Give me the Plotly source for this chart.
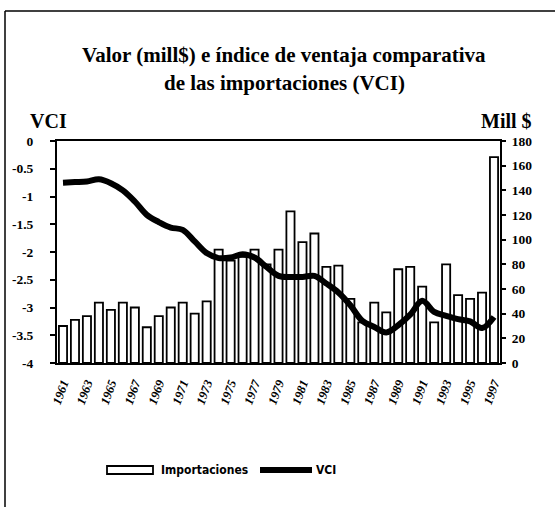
import plotly.graph_objects as go

# ---- data ----
years = list(range(1961, 1998))
importaciones = [30, 35, 38, 49, 43, 49, 45, 29, 38, 45, 49, 40, 50,
                 92, 83, 86, 92, 80, 92, 123, 98, 105, 78, 79, 52,
                 33, 49, 41, 76, 78, 62, 33, 80, 55, 52, 57, 167]
vci = [-0.75, -0.74, -0.73, -0.69, -0.76, -0.89, -1.09, -1.33, -1.46, -1.56, -1.60, -1.81, -2.02,
       -2.11, -2.10, -2.04, -2.10, -2.27, -2.43, -2.45, -2.45, -2.43, -2.57, -2.73, -2.96,
       -3.24, -3.35, -3.45, -3.32, -3.13, -2.88, -3.08, -3.15, -3.21, -3.25, -3.37, -3.17]
year_ticks = list(range(1961, 1998, 2))
vci_ticks = [0, -0.5, -1, -1.5, -2, -2.5, -3, -3.5, -4]
mill_ticks = [0, 20, 40, 60, 80, 100, 120, 140, 160, 180]

title_lines = ["Valor (mill$) e índice de ventaja comparativa", "de las importaciones (VCI)"]

# ---- layout geometry (pixels) ----
W, H = 555, 507
L, R, T, B = 57, 55, 141, 144
PW, PH = W - L - R, H - T - B

def px(x):
    return (x - L) / PW

def py(y):
    return (H - B - y) / PH

SERIF = "Liberation Serif"
SANS = "Liberation Sans Narrow, DejaVu Sans Condensed, Liberation Sans"

fig = go.Figure()
fig.add_trace(go.Bar(
    x=years, y=importaciones, name="Importaciones", yaxis="y",
    marker=dict(color="white", line=dict(color="black", width=1.8)),
    showlegend=False,
))
fig.add_trace(go.Scatter(
    x=years, y=vci, name="VCI", yaxis="y2", mode="lines",
    line=dict(color="black", width=6, shape="spline", smoothing=1.0),
    showlegend=False,
))

fig.update_layout(
    width=W, height=H,
    margin=dict(l=L, r=R, t=T, b=B, pad=0),
    paper_bgcolor="white", plot_bgcolor="white",
    bargap=0.32,
    xaxis=dict(
        range=[1960.5, 1997.5], tickmode="array", tickvals=year_ticks,
        ticktext=[str(y) for y in year_ticks], tickangle=-70,
        tickfont=dict(family=SERIF, size=12.5, color="black", weight="bold", style="italic"),
        showline=True, linecolor="black", linewidth=2, mirror=True,
        showgrid=False, zeroline=False, ticks="", ticklabelstandoff=6,
    ),
    yaxis=dict(
        side="right", range=[0, 180], tickvals=mill_ticks,
        tickfont=dict(family=SERIF, size=13.5, color="black", weight="bold"),
        showline=True, linecolor="black", linewidth=2,
        ticks="outside", ticklen=4, tickwidth=1.5, tickcolor="black",
        showgrid=False, zeroline=False, ticklabelstandoff=3,
    ),
    yaxis2=dict(
        side="left", overlaying="y", range=[-4, 0], tickvals=vci_ticks,
        ticktext=["0", "-0.5", "-1", "-1.5", "-2", "-2.5", "-3", "-3.5", "-4"],
        tickfont=dict(family=SERIF, size=13.5, color="black", weight="bold"),
        showline=True, linecolor="black", linewidth=2,
        ticks="outside", ticklen=5, tickwidth=1.5, tickcolor="black",
        showgrid=False, zeroline=False, ticklabelstandoff=14,
    ),
)

anns = []
for text, yy in zip(title_lines, [55, 83]):
    anns.append(dict(text="<b>" + text + "</b>", x=px(284), y=py(yy), xref="paper", yref="paper",
                     xanchor="center", yanchor="middle", showarrow=False,
                     font=dict(family=SERIF, size=21, color="black")))
anns.append(dict(text="<b>VCI</b>", x=px(28), y=py(121), xref="paper", yref="paper",
                 xanchor="left", yanchor="middle", showarrow=False,
                 font=dict(family=SERIF, size=20, color="black")))
anns.append(dict(text="<b>Mill $</b>", x=px(534), y=py(121), xref="paper", yref="paper",
                 xanchor="right", yanchor="middle", showarrow=False,
                 font=dict(family=SERIF, size=20, color="black")))
# legend labels
anns.append(dict(text="Importaciones", x=px(159), y=py(470), xref="paper", yref="paper",
                 xanchor="left", yanchor="middle", showarrow=False,
                 font=dict(family=SANS, size=12, color="black", weight="bold")))
anns.append(dict(text="VCI", x=px(314), y=py(470), xref="paper", yref="paper",
                 xanchor="left", yanchor="middle", showarrow=False,
                 font=dict(family=SANS, size=12, color="black", weight="bold")))
fig.update_layout(annotations=anns)

shapes = [
    # outer frame (left and top edges visible)
    dict(type="line", xref="paper", yref="paper", x0=px(5), x1=px(5), y0=py(11), y1=py(507),
         line=dict(color="black", width=1.5)),
    dict(type="line", xref="paper", yref="paper", x0=px(5), x1=px(555), y0=py(11), y1=py(11),
         line=dict(color="black", width=1.5)),
    # legend symbols
    dict(type="rect", xref="paper", yref="paper", x0=px(107), x1=px(153), y0=py(466), y1=py(474),
         line=dict(color="black", width=1.8), fillcolor="white"),
    dict(type="line", xref="paper", yref="paper", x0=px(260), x1=px(312), y0=py(470), y1=py(470),
         line=dict(color="black", width=6)),
]
fig.update_layout(shapes=shapes)

fig.write_html("out.html", config={"displayModeBar": False},
               post_script="document.body.style.margin='0';")
